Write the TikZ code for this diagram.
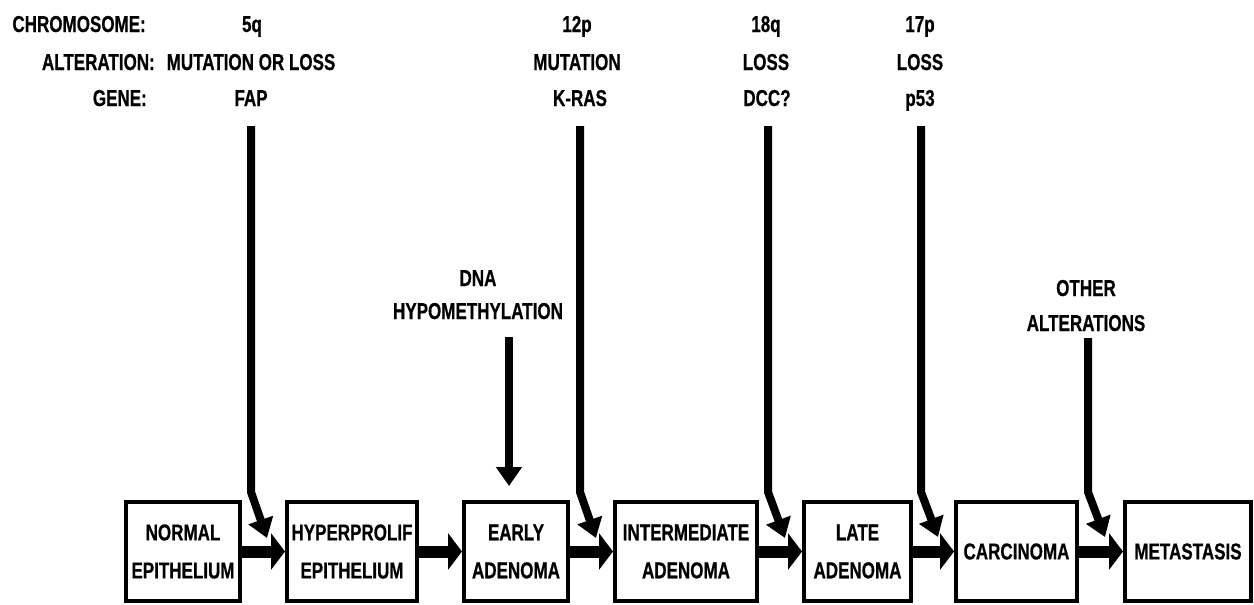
\documentclass[tikz,border=0pt]{standalone}
\usepackage{fontspec}
\newfontfamily\lbl{Liberation Sans Bold}[FakeStretch=0.74,FakeBold=0.6]
\usetikzlibrary{arrows.meta}
\begin{document}
\begin{tikzpicture}[x=1pt,y=-1pt,
  txt/.style={font=\lbl\fontsize{23}{26}\selectfont, inner sep=0pt},
  box/.style={draw, line width=4pt, inner sep=0pt, align=center, minimum height=99pt,
    font=\lbl\fontsize{23}{38}\selectfont},
  harrow/.style={line width=12pt, -{Triangle[length=14pt,width=36pt]}},
  varrow/.style={line width=8pt, line join=miter, -{Triangle[length=19pt,width=25pt]}}]
\useasboundingbox (0,0) rectangle (1254,605);

% row labels
\node[txt, anchor=base east] (chr) at (146,32) {CHROMOSOME:};
\node[txt, anchor=base east] (alt) at (155,70) {ALTERATION:};
\node[txt, anchor=base east] (gen) at (147,106) {GENE:};

% FAP column
\node[txt, anchor=base] (c1) at (252,32) {5q};
\node[txt, anchor=base] (a1) at (251,70) {MUTATION OR LOSS};
\node[txt, anchor=base] (g1) at (251,106) {FAP};
% K-RAS column
\node[txt, anchor=base] (c2) at (577,32) {12p};
\node[txt, anchor=base] (a2) at (577,70) {MUTATION};
\node[txt, anchor=base] (g2) at (580,106) {K-RAS};
% DCC column
\node[txt, anchor=base] (c3) at (766,32) {18q};
\node[txt, anchor=base] (a3) at (766,70) {LOSS};
\node[txt, anchor=base] (g3) at (767,106) {DCC?};
% p53 column
\node[txt, anchor=base] (c4) at (920,32) {17p};
\node[txt, anchor=base] (a4) at (920,70) {LOSS};
\node[txt, anchor=base] (g4) at (920,106) {p53};

% mid labels
\node[txt, anchor=base] (dna1) at (478,286) {DNA};
\node[txt, anchor=base] (dna2) at (478,319) {HYPOMETHYLATION};
\node[txt, anchor=base] (oth1) at (1086,296) {OTHER};
\node[txt, anchor=base] (oth2) at (1086,331) {ALTERATIONS};

% boxes
\node[box, minimum width=114pt] (b1) at (183,551.5) {NORMAL\\EPITHELIUM};
\node[box, minimum width=130pt] (b2) at (352,551.5) {HYPERPROLIF\\EPITHELIUM};
\node[box, minimum width=104pt] (b3) at (516,551.5) {EARLY\\ADENOMA};
\node[box, minimum width=142pt] (b4) at (686,551.5) {INTERMEDIATE\\ADENOMA};
\node[box, minimum width=107pt] (b5) at (857.5,551.5) {LATE\\ADENOMA};
\node[box, minimum width=121pt] (b6) at (1016.5,551.5) {CARCINOMA};
\node[box, minimum width=126pt] (b7) at (1188,551.5) {METASTASIS};

% horizontal arrows
\draw[harrow] (b1) -- (b2);
\draw[harrow] (b2) -- (b3);
\draw[harrow] (b3) -- (b4);
\draw[harrow] (b4) -- (b5);
\draw[harrow] (b5) -- (b6);
\draw[harrow] (b6) -- (b7);

% vertical arrows
\coordinate (s1) at (251,126); \coordinate (k1) at (251,492); \coordinate (t1) at (267,538);
\coordinate (s2) at (580,126); \coordinate (k2) at (580,492); \coordinate (t2) at (596,538);
\coordinate (s3) at (768,126); \coordinate (k3) at (768,492); \coordinate (t3) at (785,538);
\coordinate (s4) at (921,126); \coordinate (k4) at (921,492); \coordinate (t4) at (938,537);
\coordinate (s5) at (1088,338); \coordinate (k5) at (1088,492); \coordinate (t5) at (1105,537);
\coordinate (s6) at (509,337); \coordinate (t6) at (509,486);
\draw[varrow] (s1) -- (k1) -- (t1);
\draw[varrow] (s2) -- (k2) -- (t2);
\draw[varrow] (s3) -- (k3) -- (t3);
\draw[varrow] (s4) -- (k4) -- (t4);
\draw[varrow] (s5) -- (k5) -- (t5);
\draw[varrow] (s6) -- (t6);
\end{tikzpicture}
\end{document}
